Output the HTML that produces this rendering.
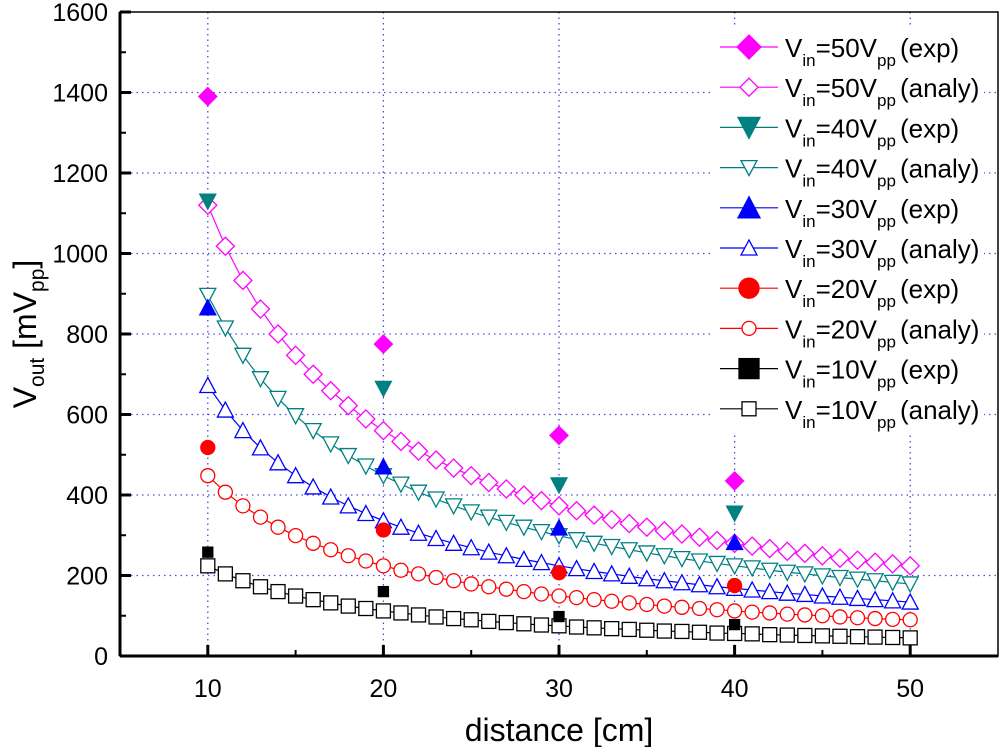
<!DOCTYPE html>
<html><head><meta charset="utf-8"><style>
body{margin:0;background:#fff;}
svg text{font-family:"Liberation Sans",Arial,sans-serif;}
</style></head><body>
<svg id="chart" width="1000" height="747" xmlns="http://www.w3.org/2000/svg">
<g id="grid"></g>
<g id="series"></g>
<g id="axes"></g>
<g id="legend"></g>
</svg>
<script>
const distances=[10,11,12,13,14,15,16,17,18,19,20,21,22,23,24,25,26,27,28,29,30,31,32,33,34,35,36,37,38,39,40,41,42,43,44,45,46,47,48,49,50];
const expDistances=[10,20,30,40];
const analy50=[1120,1018,933,862,800,747,700,659,622,589,560,533,509,487,467,448,431,415,400,386,373,361,350,339,329,320,311,303,295,287,280,273,267,260,255,249,243,238,233,229,224];
const analy40=[896,815,747,689,640,597,560,527,498,472,448,427,407,390,373,358,345,332,320,309,299,289,280,272,264,256,249,242,236,230,224,219,213,208,204,199,195,191,187,183,179];
const analy30=[672,611,560,517,480,448,420,395,373,354,336,320,305,292,280,269,258,249,240,232,224,217,210,204,198,192,187,182,177,172,168,164,160,156,153,149,146,143,140,137,134];
const analy20=[448,407,373,345,320,299,280,264,249,236,224,213,204,195,187,179,172,166,160,154,149,145,140,136,132,128,124,121,118,115,112,109,107,104,102,100,97,95,93,91,90];
const analy10=[224,204,187,172,160,149,140,132,124,118,112,107,102,97,93,90,86,83,80,77,75,72,70,68,66,64,62,61,59,57,56,55,53,52,51,50,49,48,47,46,45];
const exp50=[1390,775,548,435];
const exp40=[1130,665,425,355];
const exp30=[865,470,318,282];
const exp20=[518,313,207,175];
const exp10=[258,160,98,78];
const xTicks=[10,20,30,40,50];
const yTicks=[0,200,400,600,800,1000,1200,1400,1600];

const NS="http://www.w3.org/2000/svg";
const L=120,R=998,T=12,B=656;
const xMin=5,xMax=55,yMin=0,yMax=1600;
function xs(v){return L+(v-xMin)/(xMax-xMin)*(R-L);}
function ys(v){return B-(v-yMin)/(yMax-yMin)*(B-T);}
function mk(tag,attrs,parent){const e=document.createElementNS(NS,tag);for(const k in attrs)e.setAttribute(k,attrs[k]);parent.appendChild(e);return e;}
const grid=document.getElementById('grid'),series=document.getElementById('series'),axes=document.getElementById('axes'),legend=document.getElementById('legend');

xTicks.forEach(v=>{const e=mk('line',{x1:xs(v),x2:xs(v),y1:T,y2:B,stroke:'#4a4ae8','stroke-width':1.3,'stroke-dasharray':'1.5,4'},grid);

});
yTicks.slice(1,-1).forEach(v=>{const e=mk('line',{x1:L,x2:R,y1:ys(v),y2:ys(v),stroke:'#4a4ae8','stroke-width':1.3,'stroke-dasharray':'1.5,4'},grid);

});

function marker(shape,x,y,color,filled,parent,s){
  s=s||8;let e;const fill=filled?color:'#fff';
  if(shape==='sq') e=mk('rect',{x:x-s+1,y:y-s+1,width:2*s-2,height:2*s-2,fill:fill,stroke:color,'stroke-width':1.3},parent);
  else if(shape==='ci') e=mk('circle',{cx:x,cy:y,r:s-1,fill:fill,stroke:color,'stroke-width':1.3},parent);
  else if(shape==='up') e=mk('polygon',{points:`${x},${y-s} ${x-s},${y+s-1} ${x+s},${y+s-1}`,fill:fill,stroke:color,'stroke-width':1.3},parent);
  else if(shape==='dn') e=mk('polygon',{points:`${x},${y+s} ${x-s},${y-s+1} ${x+s},${y-s+1}`,fill:fill,stroke:color,'stroke-width':1.3},parent);
  else e=mk('polygon',{points:`${x},${y-s-1} ${x+s+1},${y} ${x},${y+s+1} ${x-s-1},${y}`,fill:fill,stroke:color,'stroke-width':1.3},parent);
  return e;
}
const defs=[
 {a:analy10,e:exp10,c:'#000000',sh:'sq',lab:'10'},
 {a:analy20,e:exp20,c:'#ff0000',sh:'ci',lab:'20'},
 {a:analy30,e:exp30,c:'#0000ff',sh:'up',lab:'30'},
 {a:analy40,e:exp40,c:'#008080',sh:'dn',lab:'40'},
 {a:analy50,e:exp50,c:'#ff00ff',sh:'di',lab:'50'}];
defs.forEach(d=>{
  const g=mk('g',{},series);
  
  
  const pl=mk('polyline',{points:distances.map((x,i)=>xs(x)+','+ys(d.a[i])).join(' '),fill:'none',stroke:d.c,'stroke-width':1.2},g);
  
  
  distances.forEach((x,i)=>{const m=marker(d.sh,xs(x),ys(d.a[i]),d.c,false,g);
    
    });
});
defs.forEach(d=>{
  const g=mk('g',{},series);
  
  
  expDistances.forEach((x,i)=>{const m=marker(d.sh,xs(x),ys(d.e[i]),d.c,true,g,d.sh==='sq'?6:8);
    
    });
});

// axes
mk('rect',{x:L,y:T,width:R-L,height:B-T,fill:'none',stroke:'#000','stroke-width':1.5},axes);
mk('line',{x1:L,x2:L,y1:T,y2:B,stroke:'#000','stroke-width':3},axes);
mk('line',{x1:L,x2:R,y1:B,y2:B,stroke:'#000','stroke-width':3},axes);
xTicks.forEach(v=>{mk('line',{x1:xs(v),x2:xs(v),y1:B,y2:B-11,stroke:'#000','stroke-width':3},axes);
  const t=mk('text',{x:xs(v),y:B+41,'text-anchor':'middle','font-size':25},axes);t.textContent=v;
  
  
  const mv=v+5; if(mv<55) mk('line',{x1:xs(mv),x2:xs(mv),y1:B,y2:B-6,stroke:'#000','stroke-width':2},axes);});
mk('line',{x1:xs(5),x2:xs(5),y1:B,y2:B-6,stroke:'#000','stroke-width':2},axes);
yTicks.forEach(v=>{mk('line',{x1:L,x2:L+11,y1:ys(v),y2:ys(v),stroke:'#000','stroke-width':3},axes);
  const t=mk('text',{x:L-12,y:ys(v)+9,'text-anchor':'end','font-size':25},axes);t.textContent=v;
  
  
  if(v<1600) mk('line',{x1:L,x2:L+6,y1:ys(v+100),y2:ys(v+100),stroke:'#000','stroke-width':2},axes);});
const xt=mk('text',{x:559,y:741,'text-anchor':'middle','font-size':32},axes);xt.textContent='distance [cm]';


const yt=mk('text',{x:0,y:0,'text-anchor':'middle','font-size':32,transform:'translate(36,334) rotate(-90)'},axes);
yt.innerHTML='V<tspan font-size="21" dy="8">out</tspan><tspan dy="-8"> [mV</tspan><tspan font-size="21" dy="8">pp</tspan><tspan dy="-8">]</tspan>';



// legend
mk('rect',{x:712,y:26,width:272,height:408,fill:'#fff'},legend);
const order=[4,3,2,1,0];
let row=0;
order.forEach(k=>{const d=defs[k];
  [['exp',true],['analy',false]].forEach(([kind,filled])=>{
    const y=47+row*40.2;
    const g=mk('g',{},legend);
    
    
    mk('line',{x1:720,x2:778,y1:y,y2:y,stroke:d.c,'stroke-width':1.2},g);
    marker(d.sh,749,y,d.c,filled,g,filled?11:8);
    const t=mk('text',{x:785,y:y+10,'font-size':26},g);
    t.innerHTML='V<tspan font-size="17" dy="9">in</tspan><tspan dy="-9">='+d.lab+'V</tspan><tspan font-size="17" dy="9">pp</tspan><tspan dy="-9" dx="4">('+kind+')</tspan>';
    row++;});
});
</script>
</body></html>
